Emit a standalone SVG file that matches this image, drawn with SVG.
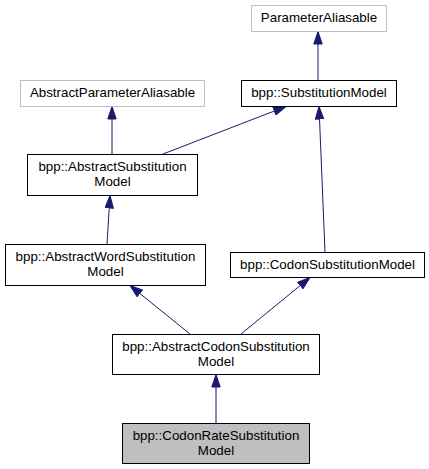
<svg xmlns="http://www.w3.org/2000/svg" width="429" height="469" viewBox="0 0 429 469">
<style>
.n{fill:#fff;stroke:#000;stroke-width:1}
.g{fill:#fff;stroke:#bfbfbf;stroke-width:1}
.h{fill:#bfbfbf;stroke:#000;stroke-width:1}
text{font-family:"Liberation Sans",Arial,sans-serif;font-size:13.33px;text-anchor:middle;fill:#000}
.e{fill:none;stroke:#191970;stroke-width:1;marker-end:url(#a)}
</style>
<defs>
<marker id="a" markerUnits="userSpaceOnUse" markerWidth="14" markerHeight="11" refX="13" refY="4.7" orient="auto">
<path d="M0.5,0.5 L13,4.7 L0.5,8.9 z" fill="#191970" stroke="#191970" stroke-width="1"/>
</marker>
</defs>
<rect width="429" height="469" fill="#fff"/>
<g id="connectors">
<path class="e" d="M318,80 L318,31.5"/>
<path class="e" d="M112,154 L112,106.5"/>
<path class="e" d="M163,154 L286,106.5"/>
<path class="e" d="M325,252 L319,106.5"/>
<path class="e" d="M107,244 L110,195.5"/>
<path class="e" d="M190,334 L130,285.5"/>
<path class="e" d="M241,334 L310,277.5"/>
<path class="e" d="M216,423 L216,374.5"/>
</g>
<g id="ParameterAliasable"><rect class="g" x="251.5" y="5.5" width="135" height="26"/><text x="319" y="22">ParameterAliasable</text></g>
<g id="AbstractParameterAliasable"><rect class="g" x="20.5" y="80.5" width="184" height="26"/><text x="112.5" y="97">AbstractParameterAliasable</text></g>
<g id="SubstitutionModel"><rect class="n" x="241.5" y="80.5" width="155" height="26"/><text x="319" y="97">bpp::SubstitutionModel</text></g>
<g id="AbstractSubstitutionModel"><rect class="n" x="27.5" y="154.5" width="170" height="41"/><text x="112.5" y="171">bpp::AbstractSubstitution</text><text x="112.5" y="186">Model</text></g>
<g id="AbstractWordSubstitutionModel"><rect class="n" x="5.5" y="244.5" width="200" height="41"/><text x="105.5" y="261">bpp::AbstractWordSubstitution</text><text x="105.5" y="276">Model</text></g>
<g id="CodonSubstitutionModel"><rect class="n" x="230.5" y="252.5" width="194" height="25"/><text x="327.5" y="269">bpp::CodonSubstitutionModel</text></g>
<g id="AbstractCodonSubstitutionModel"><rect class="n" x="112.5" y="334.5" width="207" height="40"/><text x="216" y="351">bpp::AbstractCodonSubstitution</text><text x="216" y="366">Model</text></g>
<g id="CodonRateSubstitutionModel"><rect class="h" x="122.5" y="423.5" width="187" height="40"/><text x="216" y="440">bpp::CodonRateSubstitution</text><text x="216" y="455">Model</text></g>
</svg>
